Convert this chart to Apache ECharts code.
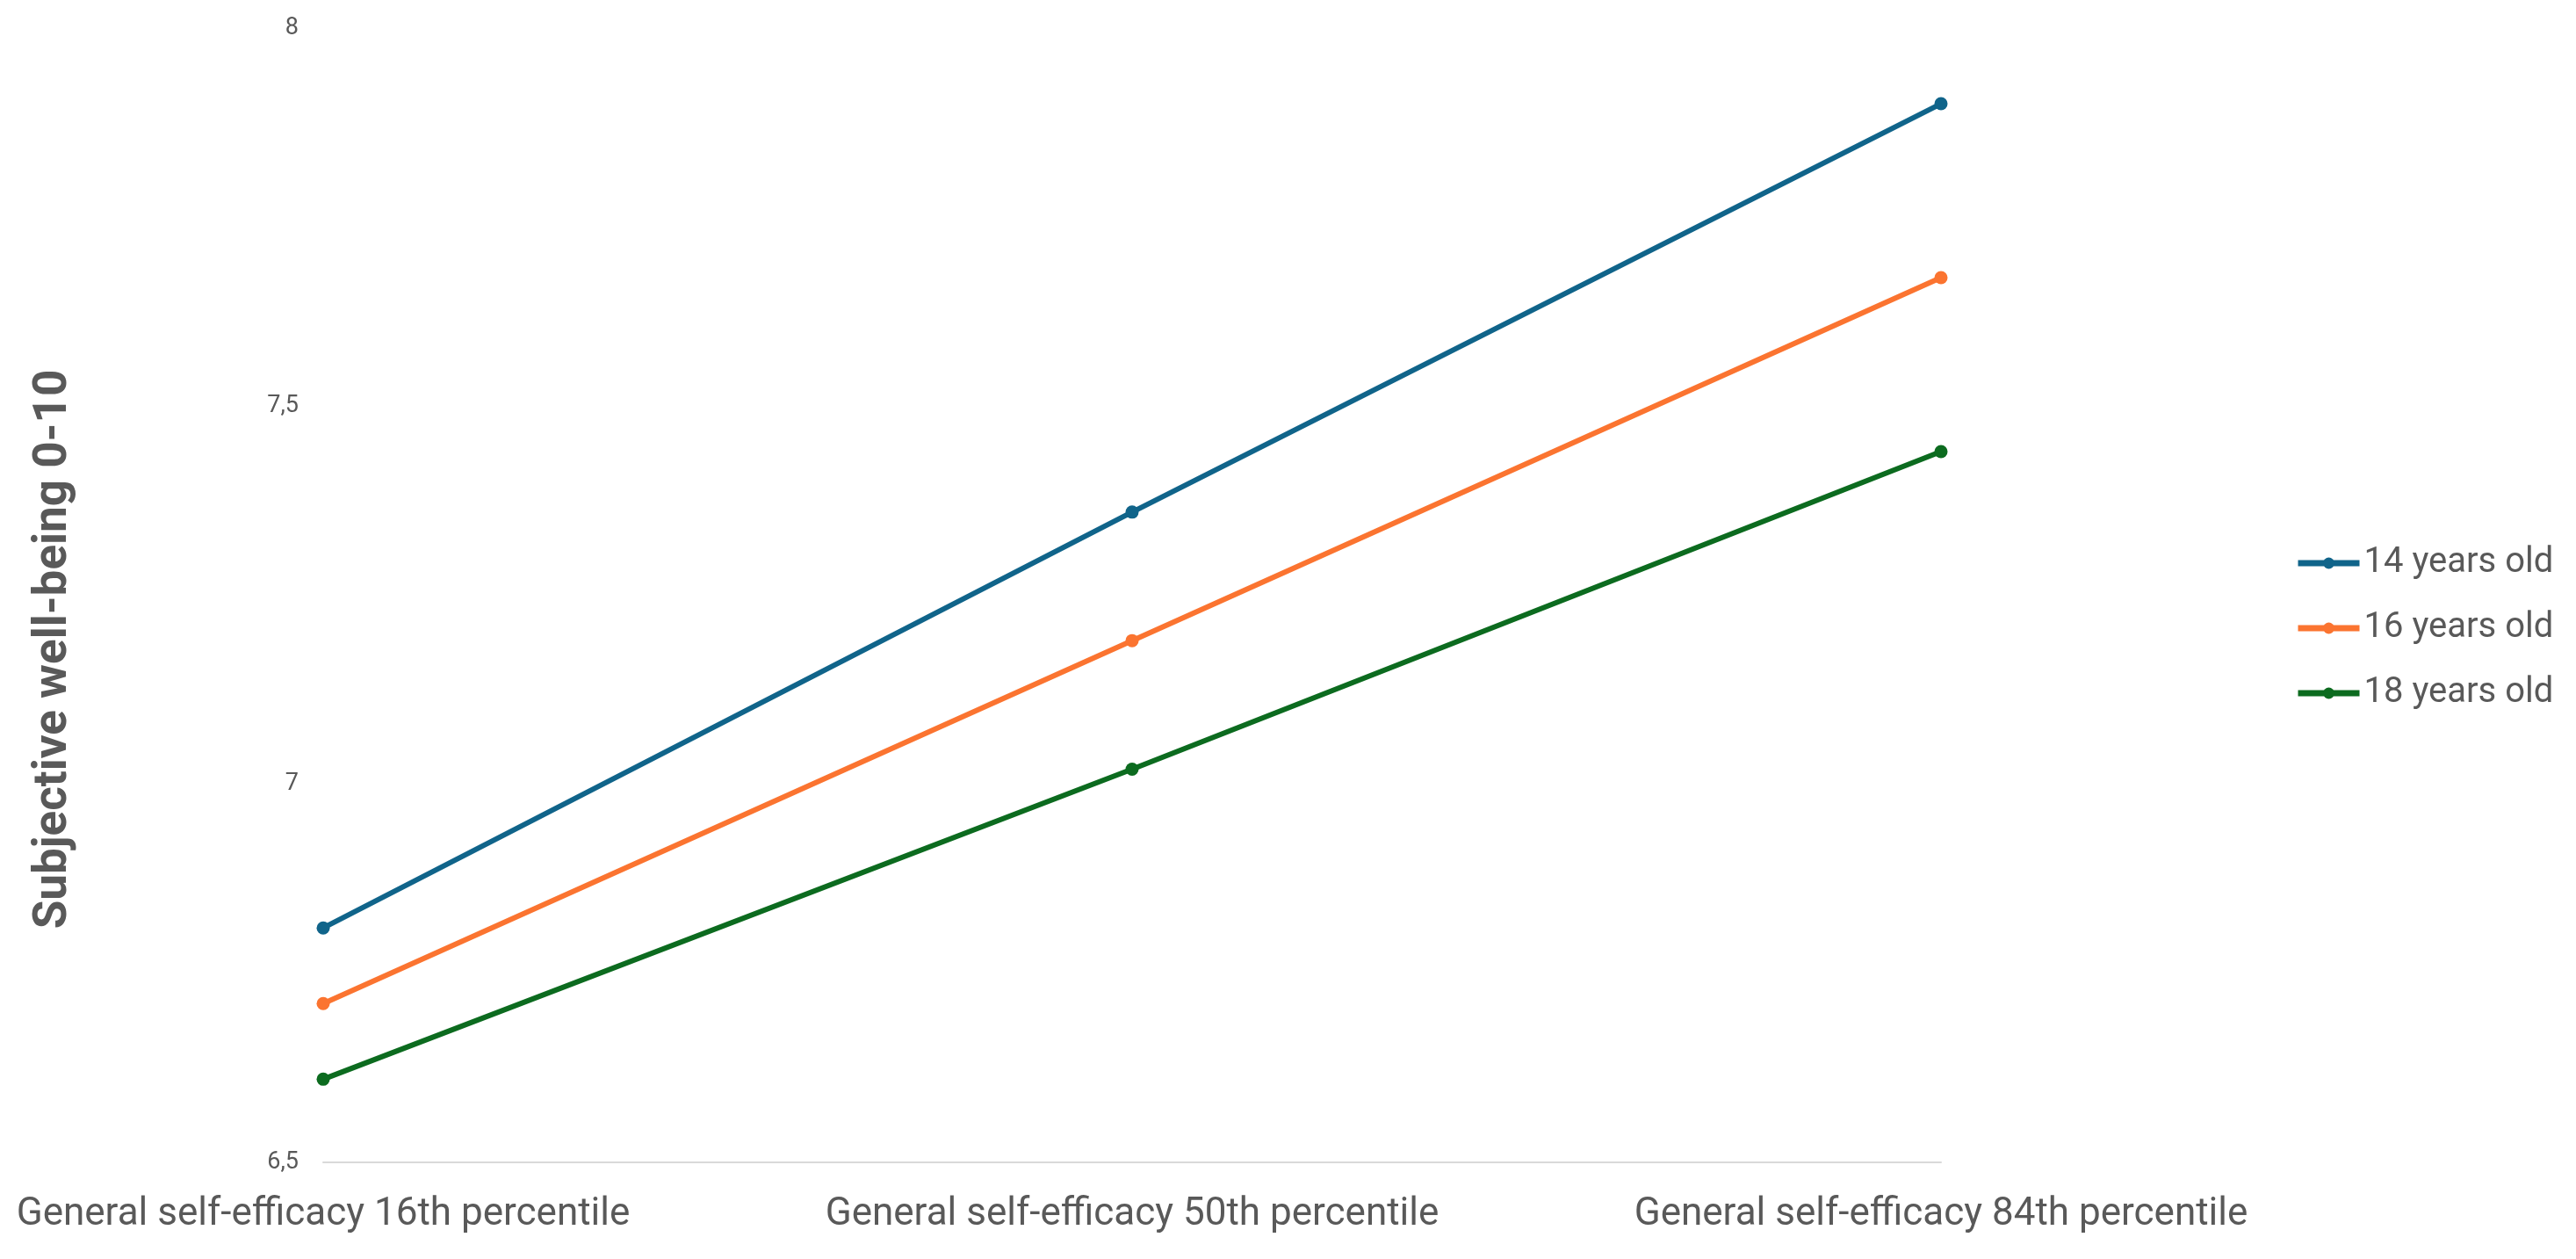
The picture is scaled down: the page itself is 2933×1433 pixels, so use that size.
<!DOCTYPE html>
<html>
<head>
<meta charset="utf-8">
<script src="https://cdn.jsdelivr.net/npm/echarts@6/dist/echarts.min.js"></script>
<style>
  html, body { margin: 0; padding: 0; background: #fff; }
  #chart { width: 2933px; height: 1433px; }
</style>
</head>
<body>
<div id="chart"></div>
<script>
// categories on the x axis
var categories = [
  'General self-efficacy 16th percentile',
  'General self-efficacy 50th percentile',
  'General self-efficacy 84th percentile'
];
// series values (subjective well-being)
var age14 = [6.81, 7.36, 7.90];
var age16 = [6.71, 7.19, 7.67];
var age18 = [6.61, 7.02, 7.44];
var seriesNames = ['14 years old', '16 years old', '18 years old'];
var colors = ['#10648a', '#fb7430', '#0c6b1f'];

var textGray = '#595959';

function makeSeries(name, data, color){
  return {
    name: name,
    type: 'line',
    data: data,
    symbol: 'circle',
    symbolSize: 15,
    lineStyle: { width: 6, color: color },
    itemStyle: { color: color },
    emphasis: { disabled: true }
  };
}

var chart = echarts.init(document.getElementById('chart'));
chart.setOption({
  animation: false,
  grid: { left: 368, right: 723, top: 32, bottom: 110 },
  legend: {
    orient: 'vertical',
    left: 2608,
    top: 616,
    itemWidth: 70,
    itemHeight: 16,
    itemGap: 34,
    lineStyle: { width: 7 },
    itemStyle: { borderWidth: 0 },
    textStyle: { color: textGray, fontSize: 40, fontFamily: 'Roboto' },
    data: seriesNames
  },
  xAxis: {
    type: 'category',
    boundaryGap: false,
    data: categories,
    axisLine: { lineStyle: { color: '#d9d9d9', width: 2 } },
    axisTick: { show: false },
    axisLabel: { color: textGray, fontSize: 44, fontFamily: 'Roboto', margin: 38 }
  },
  yAxis: {
    type: 'value',
    min: 6.5,
    max: 8,
    interval: 0.5,
    axisLine: { show: false },
    axisTick: { show: false },
    splitLine: { show: false },
    axisLabel: {
      color: textGray,
      fontSize: 27,
      fontFamily: 'Roboto',
      margin: 28,
      formatter: function(v){ return String(v).replace('.', ','); }
    }
  },
  graphic: [{
    type: 'text',
    x: 62,
    y: 739,
    rotation: Math.PI / 2,
    style: {
      text: 'Subjective well-being 0-10',
      fill: textGray,
      font: 'bold 53px Roboto',
      align: 'center',
      verticalAlign: 'middle'
    }
  }],
  series: [
    makeSeries(seriesNames[0], age14, colors[0]),
    makeSeries(seriesNames[1], age16, colors[1]),
    makeSeries(seriesNames[2], age18, colors[2])
  ]
});
</script>
</body>
</html>
